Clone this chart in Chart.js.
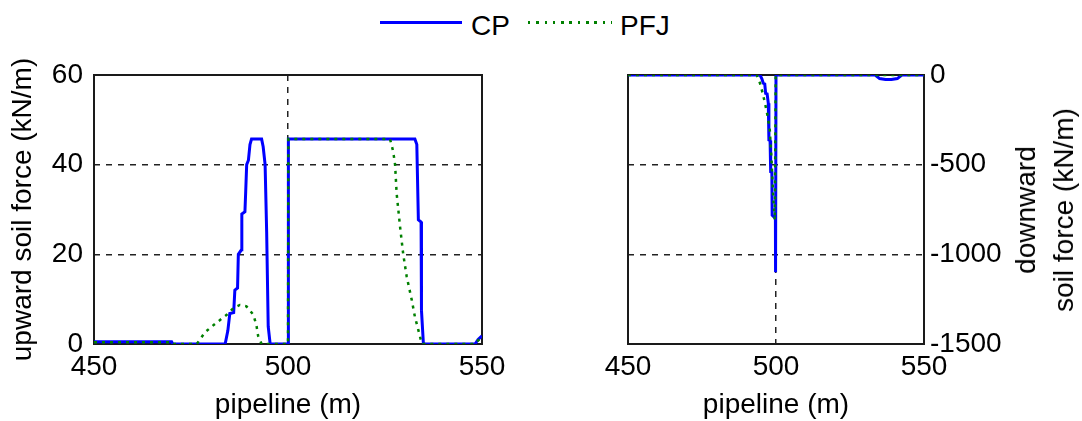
<!DOCTYPE html>
<html>
<head>
<meta charset="utf-8">
<title>Soil force along pipeline</title>
<script src="https://cdn.jsdelivr.net/npm/chart.js@4.4.1/dist/chart.umd.min.js"></script>
<style>
    body { margin: 0; background: #fff; }
    #wrap { position: relative; width: 1082px; height: 421px; overflow: hidden; font-family: 'Liberation Sans', Arial, sans-serif; color: #000; }
    canvas { position: absolute; top: 0; }
    .legend-text { position: absolute; top: 12px; font-size: 28px; line-height: 28px; white-space: nowrap; }
    .legend-line { position: absolute; height: 3px; }
    #rightTitle { position: absolute; left: 1045px; top: 210px; transform: translate(-50%, -50%) rotate(-90deg); font-size: 28px; line-height: 38px; text-align: center; white-space: nowrap; }
</style>
</head>
<body>
<div id="wrap">
    <div class="legend-line" style="left:380px; top:21px; width:82px; background:#0000ff;"></div>
    <div class="legend-text" style="left:471px;">CP</div>
    <div class="legend-line" style="left:528px; top:21px; width:84px; background:repeating-linear-gradient(90deg, #008000 0 2.5px, transparent 2.5px 8.3px);"></div>
    <div class="legend-text" style="left:620px;">PFJ</div>

    <canvas id="upChart" width="560" height="421" style="left:0; width:560px; height:421px;"></canvas>
    <canvas id="downChart" width="522" height="421" style="left:560px; width:522px; height:421px;"></canvas>

    <div id="rightTitle">downward<br>soil force (kN/m)</div>
</div>

<script>
// Pipeline position (m) and soil force (kN/m) for each method
// Upward soil force
const cpUpX = [450, 470, 470.3, 483.8, 484.5, 485, 486, 486.3, 487, 487.2, 488, 488.1, 488.9, 489.1, 489.35, 489.8, 490.2, 490.6, 493.2, 493.6, 494.1, 494.5, 494.9, 495.4, 500, 500.1, 532.7, 533.2, 533.6, 534.3, 534.4, 534.9, 548.2, 549, 550];
const cpUpY = [0.5, 0.5, 0, 0, 3, 6.8, 7, 12, 12.5, 20, 21, 29, 29.5, 34, 40, 41, 44.5, 45.7, 45.7, 44, 40, 25, 3.9, 0, 0, 45.7, 45.7, 44.5, 27.7, 27.2, 7.5, 0, 0, 1, 1.8];
const pfjUpX = [450, 470, 470.3, 476.5, 478.6, 481.2, 484.2, 485.9, 487.6, 489.3, 491.1, 491.9, 492.3, 493.2, 500, 500.1, 526.3, 527.1, 527.6, 528, 528.9, 529.7, 530.6, 531.9, 532.7, 533.6, 534.5, 548.2, 549, 550];
const pfjUpY = [0.4, 0.4, 0, 0, 2.6, 4.5, 6.5, 8, 8.7, 8.4, 6.5, 4, 1.8, 0, 0, 45.7, 45.7, 43, 40, 33.6, 26, 20, 15, 9.8, 6.1, 3.1, 0, 0, 0.8, 1.5];

// Downward soil force
const cpDownX = [450, 494.6, 495.2, 495.7, 496.2, 496.5, 497, 497.4, 497.6, 498, 498.2, 498.6, 498.7, 499.8, 499.85, 500, 533.5, 535, 537, 539, 541, 542.5, 550];
const cpDownY = [0, 0, -20, -46, -50, -102, -105, -158, -362, -365, -539, -542, -781, -800, -1100, 0, 0, -20, -25, -25, -20, 0, 0];
const pfjDownX = [450, 493.5, 494.6, 495.5, 496.3, 497.2, 497.9, 498.5, 499, 499.6, 499.9, 550];
const pfjDownY = [0, 0, -46, -102, -158, -232, -307, -474, -660, -808, 0, 0];

// Axis ticks
const pipelineTicks = [450, 500, 550];
const upTicks = [0, 20, 40, 60];
const downTicks = [-1500, -1000, -500, 0];

const fontFamily = "'Liberation Sans', Arial, sans-serif";
const cpColor = '#0000ff';
const pfjColor = '#008000';

function toPoints(xs, ys) {
    return xs.map((x, i) => ({ x: x, y: ys[i] }));
}

// Solid frame round the plot area, drawn under the lines
const frameBox = {
    id: 'frameBox',
    beforeDatasetsDraw(chart) {
        const { ctx, chartArea } = chart;
        ctx.save();
        ctx.strokeStyle = '#1a1a1a';
        ctx.lineWidth = 2;
        ctx.strokeRect(chartArea.left, chartArea.top, chartArea.right - chartArea.left, chartArea.bottom - chartArea.top);
        ctx.restore();
    }
};

function makeDatasets(cpX, cpY, pfjX, pfjY) {
    return [{
        label: 'CP',
        data: toPoints(cpX, cpY),
        borderColor: cpColor,
        borderWidth: 3,
        pointRadius: 0,
        tension: 0,
        order: 1
    }, {
        label: 'PFJ',
        data: toPoints(pfjX, pfjY),
        borderColor: pfjColor,
        borderWidth: 2.5,
        borderDash: [3, 5],
        pointRadius: 0,
        tension: 0,
        order: 0
    }];
}

function pipelineAxis() {
    return {
        type: 'linear',
        min: pipelineTicks[0],
        max: pipelineTicks[pipelineTicks.length - 1],
        afterBuildTicks: (scale) => { scale.ticks = pipelineTicks.map(v => ({ value: v })); },
        afterFit: (scale) => { scale.height = 77; },
        grid: { color: '#222', lineWidth: 1.5, drawTicks: false },
        border: { display: false, dash: [6, 6] },
        ticks: { color: '#000', padding: 6, maxRotation: 0, font: { family: fontFamily, size: 28 } },
        title: { display: true, text: 'pipeline (m)', color: '#000', padding: { top: 0, bottom: 0 }, font: { family: fontFamily, size: 28, lineHeight: 1.1 } }
    };
}

function forceAxis(ticks, position, width, title) {
    return {
        type: 'linear',
        position: position,
        min: ticks[0],
        max: ticks[ticks.length - 1],
        afterBuildTicks: (scale) => { scale.ticks = ticks.map(v => ({ value: v })); },
        afterFit: (scale) => { scale.width = width; },
        grid: { color: '#222', lineWidth: 1.5, drawTicks: false },
        border: { display: false, dash: [6, 6] },
        ticks: {
            color: '#000',
            padding: position === 'left' ? 11 : 6,
            font: { family: fontFamily, size: 28 },
            callback: (v) => String(v)
        },
        title: title
    };
}

const commonOptions = {
    responsive: false,
    animation: false,
    events: [],
    plugins: { legend: { display: false }, tooltip: { enabled: false } }
};

const upChart = new Chart(document.getElementById('upChart'), {
    type: 'line',
    data: { datasets: makeDatasets(cpUpX, cpUpY, pfjUpX, pfjUpY) },
    options: Object.assign({}, commonOptions, {
        layout: { padding: { top: 75, right: 78, left: 0, bottom: 0 } },
        scales: {
            x: pipelineAxis(),
            y: forceAxis(upTicks, 'left', 94, {
                display: true,
                text: 'upward soil force (kN/m)',
                color: '#000',
                padding: { top: 6, bottom: 0 },
                font: { family: fontFamily, size: 28, lineHeight: 1.2 }
            })
        }
    }),
    plugins: [frameBox]
});

const downChart = new Chart(document.getElementById('downChart'), {
    type: 'line',
    data: { datasets: makeDatasets(cpDownX, cpDownY, pfjDownX, pfjDownY) },
    options: Object.assign({}, commonOptions, {
        layout: { padding: { top: 75, right: 0, left: 68, bottom: 0 } },
        scales: {
            x: pipelineAxis(),
            y: forceAxis(downTicks, 'right', 158, { display: false })
        }
    }),
    plugins: [frameBox]
});
</script>
</body>
</html>
